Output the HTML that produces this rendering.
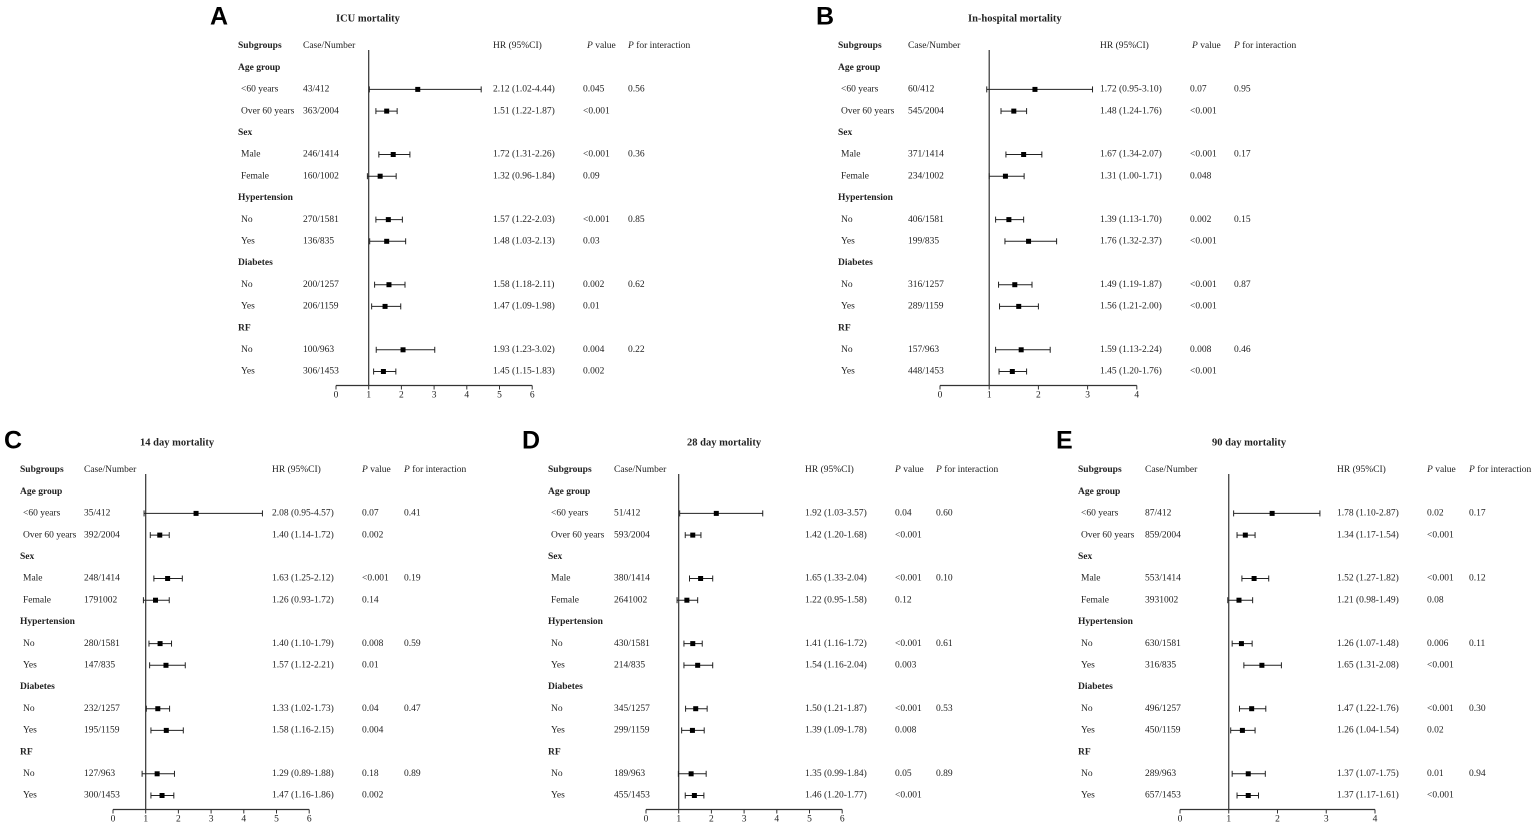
<!DOCTYPE html>
<html><head><meta charset="utf-8"><style>
body{margin:0;background:#fff}
svg{display:block}
text{font-family:"Liberation Serif",serif;font-size:9.5px;fill:#222}
.b{font-weight:bold}
.L{font-family:"Liberation Sans",sans-serif;font-weight:bold;font-size:25px;fill:#000}
.t{font-weight:bold;font-size:10.5px}
</style></head><body>
<svg id="fig" width="1535" height="828" viewBox="0 0 1535 828"></svg>
<script>
const groups=["Age group","Sex","Hypertension","Diabetes","RF"];
const subLabels=["<60 years","Over 60 years","Male","Female","No","Yes","No","Yes","No","Yes"];
// Panel A
const caseA=["43/412","363/2004","246/1414","160/1002","270/1581","136/835","200/1257","206/1159","100/963","306/1453"];
const hrA=["2.12 (1.02-4.44)","1.51 (1.22-1.87)","1.72 (1.31-2.26)","1.32 (0.96-1.84)","1.57 (1.22-2.03)","1.48 (1.03-2.13)","1.58 (1.18-2.11)","1.47 (1.09-1.98)","1.93 (1.23-3.02)","1.45 (1.15-1.83)"];
const ptA=[2.5,1.55,1.75,1.35,1.6,1.55,1.62,1.5,2.05,1.45];
const loA=[1.02,1.22,1.31,0.96,1.22,1.03,1.18,1.09,1.23,1.15];
const hiA=[4.44,1.87,2.26,1.84,2.03,2.13,2.11,1.98,3.02,1.83];
const pA=["0.045","<0.001","<0.001","0.09","<0.001","0.03","0.002","0.01","0.004","0.002"];
const piA=["0.56","","0.36","","0.85","","0.62","","0.22",""];
// Panel B
const caseB=["60/412","545/2004","371/1414","234/1002","406/1581","199/835","316/1257","289/1159","157/963","448/1453"];
const hrB=["1.72 (0.95-3.10)","1.48 (1.24-1.76)","1.67 (1.34-2.07)","1.31 (1.00-1.71)","1.39 (1.13-1.70)","1.76 (1.32-2.37)","1.49 (1.19-1.87)","1.56 (1.21-2.00)","1.59 (1.13-2.24)","1.45 (1.20-1.76)"];
const ptB=[1.93,1.5,1.7,1.33,1.4,1.8,1.52,1.6,1.65,1.47];
const loB=[0.95,1.24,1.34,1.00,1.13,1.32,1.19,1.21,1.13,1.20];
const hiB=[3.10,1.76,2.07,1.71,1.70,2.37,1.87,2.00,2.24,1.76];
const pB=["0.07","<0.001","<0.001","0.048","0.002","<0.001","<0.001","<0.001","0.008","<0.001"];
const piB=["0.95","","0.17","","0.15","","0.87","","0.46",""];
// Panel C
const caseC=["35/412","392/2004","248/1414","1791002","280/1581","147/835","232/1257","195/1159","127/963","300/1453"];
const hrC=["2.08 (0.95-4.57)","1.40 (1.14-1.72)","1.63 (1.25-2.12)","1.26 (0.93-1.72)","1.40 (1.10-1.79)","1.57 (1.12-2.21)","1.33 (1.02-1.73)","1.58 (1.16-2.15)","1.29 (0.89-1.88)","1.47 (1.16-1.86)"];
const ptC=[2.54,1.43,1.67,1.3,1.44,1.62,1.37,1.63,1.35,1.5];
const loC=[0.95,1.14,1.25,0.93,1.10,1.12,1.02,1.16,0.89,1.16];
const hiC=[4.57,1.72,2.12,1.72,1.79,2.21,1.73,2.15,1.88,1.86];
const pC=["0.07","0.002","<0.001","0.14","0.008","0.01","0.04","0.004","0.18","0.002"];
const piC=["0.41","","0.19","","0.59","","0.47","","0.89",""];
// Panel D
const caseD=["51/412","593/2004","380/1414","2641002","430/1581","214/835","345/1257","299/1159","189/963","455/1453"];
const hrD=["1.92 (1.03-3.57)","1.42 (1.20-1.68)","1.65 (1.33-2.04)","1.22 (0.95-1.58)","1.41 (1.16-1.72)","1.54 (1.16-2.04)","1.50 (1.21-1.87)","1.39 (1.09-1.78)","1.35 (0.99-1.84)","1.46 (1.20-1.77)"];
const ptD=[2.15,1.43,1.67,1.25,1.43,1.58,1.52,1.42,1.38,1.48];
const loD=[1.03,1.20,1.33,0.95,1.16,1.16,1.21,1.09,0.99,1.20];
const hiD=[3.57,1.68,2.04,1.58,1.72,2.04,1.87,1.78,1.84,1.77];
const pD=["0.04","<0.001","<0.001","0.12","<0.001","0.003","<0.001","0.008","0.05","<0.001"];
const piD=["0.60","","0.10","","0.61","","0.53","","0.89",""];
// Panel E
const caseE=["87/412","859/2004","553/1414","3931002","630/1581","316/835","496/1257","450/1159","289/963","657/1453"];
const hrE=["1.78 (1.10-2.87)","1.34 (1.17-1.54)","1.52 (1.27-1.82)","1.21 (0.98-1.49)","1.26 (1.07-1.48)","1.65 (1.31-2.08)","1.47 (1.22-1.76)","1.26 (1.04-1.54)","1.37 (1.07-1.75)","1.37 (1.17-1.61)"];
const ptE=[1.89,1.34,1.52,1.21,1.26,1.68,1.47,1.28,1.4,1.4];
const loE=[1.10,1.17,1.27,0.98,1.07,1.31,1.22,1.04,1.07,1.17];
const hiE=[2.87,1.54,1.82,1.49,1.48,2.08,1.76,1.54,1.75,1.61];
const pE=["0.02","<0.001","<0.001","0.08","0.006","<0.001","<0.001","0.02","0.01","<0.001"];
const piE=["0.17","","0.12","","0.11","","0.30","","0.94",""];
const ticksA=[0,1,2,3,4,5,6], ticksB=[0,1,2,3,4];

const NS="http://www.w3.org/2000/svg";
const svg=document.getElementById('fig');
function mk(tag,attrs,parent){const e=document.createElementNS(NS,tag);for(const k in attrs)e.setAttribute(k,attrs[k]);(parent||svg).appendChild(e);return e;}
function txt(x,y,s,cls,parent){const t=mk('text',{x:x,y:y,'dominant-baseline':'middle'},parent);if(cls)t.setAttribute('class',cls);t.textContent=s;return t;}
function ptxt(x,y,rest,parent){const t=mk('text',{x:x,y:y,'dominant-baseline':'middle'},parent);const a=document.createElementNS(NS,'tspan');a.setAttribute('font-style','italic');a.textContent='P';t.appendChild(a);t.appendChild(document.createTextNode(rest));return t;}

const panels=[
 {id:'a',L:'A',lx:210,ly:18,title:'ICU mortality',tx:336,ty:19,hy:46,sub:238,cs:303,hr:493,p:583,ph:587,pi:628,x0:336,sc:32.7,ticks:ticksA,cases:caseA,hrs:hrA,pt:ptA,lo:loA,hi:hiA,ps:pA,pis:piA},
 {id:'b',L:'B',lx:816,ly:18,title:'In-hospital mortality',tx:968,ty:19,hy:46,sub:838,cs:908,hr:1100,p:1190,ph:1192,pi:1234,x0:940,sc:49.2,ticks:ticksB,cases:caseB,hrs:hrB,pt:ptB,lo:loB,hi:hiB,ps:pB,pis:piB},
 {id:'c',L:'C',lx:4,ly:442,title:'14 day mortality',tx:140,ty:443,hy:470,sub:20,cs:84,hr:272,p:362,ph:362,pi:404,x0:113,sc:32.7,ticks:ticksA,cases:caseC,hrs:hrC,pt:ptC,lo:loC,hi:hiC,ps:pC,pis:piC},
 {id:'d',L:'D',lx:522,ly:442,title:'28 day mortality',tx:687,ty:443,hy:470,sub:548,cs:614,hr:805,p:895,ph:895,pi:936,x0:646,sc:32.7,ticks:ticksA,cases:caseD,hrs:hrD,pt:ptD,lo:loD,hi:hiD,ps:pD,pis:piD},
 {id:'e',L:'E',lx:1056,ly:442,title:'90 day mortality',tx:1212,ty:443,hy:470,sub:1078,cs:1145,hr:1337,p:1427,ph:1427,pi:1469,x0:1180,sc:48.75,ticks:ticksB,cases:caseE,hrs:hrE,pt:ptE,lo:loE,hi:hiE,ps:pE,pis:piE}
];
const rowStep=21.7;
panels.forEach(P=>{
 const g=mk('g',{});
 
 
 const X=v=>P.x0+v*P.sc;
 const Y=i=>P.hy+(i+1)*rowStep;
 const l=txt(P.lx,P.ly,P.L,'L',g);
 const t=txt(P.tx,P.ty,P.title,'t',g);
 const hg=mk('g',{},g);
 txt(P.sub,P.hy,'Subgroups','b',hg);txt(P.cs,P.hy,'Case/Number',null,hg);txt(P.hr,P.hy,'HR (95%CI)',null,hg);
 ptxt(P.ph,P.hy,' value',hg);ptxt(P.pi,P.hy,' for interaction',hg);
 const axY=P.hy+15*rowStep+14;
 const rl=mk('line',{x1:X(1),x2:X(1),y1:P.hy+4,y2:axY,stroke:'#333','stroke-width':1.2},g);
 
 const ax=mk('g',{},g);
 mk('line',{x1:X(P.ticks[0]),x2:X(P.ticks[P.ticks.length-1]),y1:axY,y2:axY,stroke:'#333','stroke-width':1.2},ax);
 P.ticks.forEach(v=>{mk('line',{x1:X(v),x2:X(v),y1:axY,y2:axY+4,stroke:'#333','stroke-width':1},ax);
  const tt=mk('text',{x:X(v),y:axY+10,'text-anchor':'middle','dominant-baseline':'middle'},ax);tt.textContent=v;});
 let r=0;
 for(let gi=0;gi<groups.length;gi++){
  const gh=txt(P.sub,Y(r),groups[gi],'b',g);
  r++;
  for(let k=0;k<2;k++){
   const i=gi*2+k,y=Y(r);
   const row=mk('g',{},g);
   txt(P.sub+3,y,subLabels[i],null,row);
   txt(P.cs,y,P.cases[i],null,row);
   txt(P.hr,y,P.hrs[i],null,row);
   txt(P.p,y,P.ps[i],null,row);
   if(P.pis[i])txt(P.pi,y,P.pis[i],null,row);
   const ci=mk('g',{stroke:'#222','stroke-width':1},row);
   
   mk('line',{x1:X(P.lo[i]),x2:X(P.hi[i]),y1:y,y2:y},ci);
   mk('line',{x1:X(P.lo[i]),x2:X(P.lo[i]),y1:y-3,y2:y+3},ci);
   mk('line',{x1:X(P.hi[i]),x2:X(P.hi[i]),y1:y-3,y2:y+3},ci);
   const sq=mk('rect',{x:X(P.pt[i])-2.5,y:y-2.5,width:5,height:5,fill:'#000'},row);
   
   r++;
  }
 }
});
</script>
</body></html>
